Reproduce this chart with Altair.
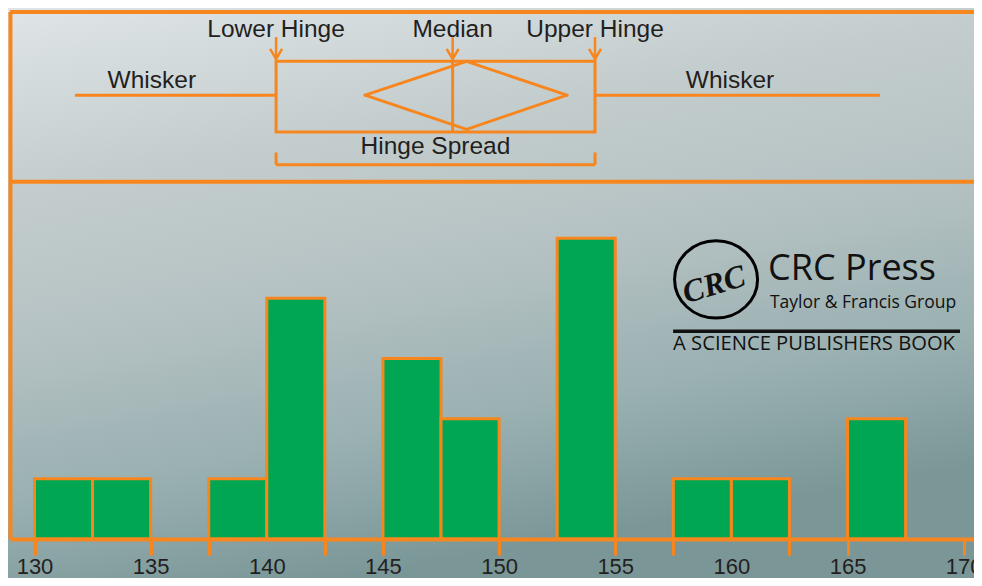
import altair as alt
import pandas as pd

# ---------------- data ----------------
bin_start = [130, 132.5, 137.5, 140, 145, 147.5, 152.5, 157.5, 160, 165]
bin_end = [132.5, 135, 140, 142.5, 147.5, 150, 155, 160, 162.5, 167.5]
counts = [1, 1, 1, 4, 3, 2, 5, 1, 1, 2]
tick_values = [130, 135, 137.5, 140, 142.5, 145, 150, 155, 157.5, 160, 162.5, 165, 170]
label_only = [140, 160]  # labelled positions drawn without a tick

# box-plot schematic (values on the x scale)
whisker_low = 131.74
lower_hinge = 140.4
median = 148.0
upper_hinge = 154.13
whisker_high = 166.4
diamond_low = 144.23
diamond_mid = 148.6
diamond_high = 152.92

ORANGE = "#f7861e"
GREEN = "#00a651"
TEXT = "#231f20"

# layout levels (on the count scale)
frame_top = 8.76
label_row = 8.455
arrow_top = 8.342
arrow_tip = 7.979
box_top = 7.94
box_bottom = 6.765
whisker_y = 7.377
whisker_text_y = 7.62
spread_text_y = 6.512
bracket_top = 6.425
bracket_y = 6.22
divider_y = 5.94

X_MIN, X_MAX = 128.945, 170.444
xscale = alt.Scale(domain=[X_MIN, X_MAX], nice=False, zero=False)
yscale = alt.Scale(domain=[0, 8.793], nice=False, zero=False)

tick_test = " || ".join(f"datum.value == {v}" for v in label_only)

XAXIS = alt.Axis(
    orient="bottom",
    values=tick_values, labelExpr="datum.value % 5 == 0 ? datum.label : ''",
    title=None, grid=False, domainColor=ORANGE, domainWidth=4, tickColor=ORANGE,
    tickOpacity={"condition": {"test": tick_test, "value": 0}, "value": 1},
    tickWidth=3, tickSize=16, labelFontSize=22, labelFont="Liberation Sans", labelColor=TEXT,
    labelPadding=1, labelFlush=False, labelOverlap=False, zindex=1)


def X(f):
    return alt.X(f, type="quantitative", scale=xscale, axis=XAXIS)


def Y(f):
    return alt.Y(f, type="quantitative", scale=yscale, axis=None)


# background
bg = alt.Chart(pd.DataFrame({"x": [128.5], "x2": [171.3], "y": [-0.8], "y2": [8.95]})).mark_rect(
    color=alt.LinearGradient(
        gradient="linear",
        stops=[
            alt.GradientStop(color="#e0e6e9", offset=0),
            alt.GradientStop(color="#c4cdce", offset=0.3),
            alt.GradientStop(color="#b4c1c2", offset=0.55),
            alt.GradientStop(color="#98afb0", offset=0.8),
            alt.GradientStop(color="#7a9697", offset=1),
        ],
        x1=0, x2=0.3, y1=0, y2=1,
    )
).encode(x=X("x"), x2="x2", y=Y("y"), y2="y2")

# histogram bars
bars = alt.Chart(pd.DataFrame({"x": bin_start, "x2": bin_end, "y": counts})).mark_rect(
    fill=GREEN, stroke=ORANGE, strokeWidth=3
).encode(x=X("x"), x2="x2", y=Y("y"), y2=alt.datum(0))

# frame lines (top, divider, left edge)
hlines = alt.Chart(pd.DataFrame({"y": [frame_top, divider_y]})).mark_rule(
    color=ORANGE, strokeWidth=4
).encode(y=Y("y"))
left_edge = alt.Chart(pd.DataFrame({"x": [X_MIN + 0.02], "y": [0], "y2": [frame_top]})).mark_rule(
    color=ORANGE, strokeWidth=4
).encode(x=X("x"), y=Y("y"), y2="y2")

# whiskers
whiskers = alt.Chart(pd.DataFrame({
    "x": [whisker_low, upper_hinge], "x2": [lower_hinge, whisker_high], "y": [whisker_y, whisker_y]
})).mark_rule(color=ORANGE, strokeWidth=3).encode(x=X("x"), x2="x2", y=Y("y"))

# box
box = alt.Chart(pd.DataFrame({
    "x": [lower_hinge], "x2": [upper_hinge], "y": [box_top], "y2": [box_bottom]
})).mark_rect(fillOpacity=0, stroke=ORANGE, strokeWidth=3).encode(
    x=X("x"), x2="x2", y=Y("y"), y2="y2")

median_line = alt.Chart(pd.DataFrame({"x": [median], "y": [box_top], "y2": [box_bottom]})).mark_rule(
    color=ORANGE, strokeWidth=3).encode(x=X("x"), y=Y("y"), y2="y2")

# diamond
d_top = box_top
d_bot = 6.81
diamond = alt.Chart(pd.DataFrame({
    "x": [diamond_low, diamond_mid, diamond_high, diamond_mid],
    "y": [whisker_y, d_top, whisker_y, d_bot],
    "x2": [diamond_mid, diamond_high, diamond_mid, diamond_low],
    "y2": [d_top, whisker_y, d_bot, whisker_y],
})).mark_rule(color=ORANGE, strokeWidth=3, strokeCap="round").encode(
    x=X("x"), y=Y("y"), x2="x2", y2="y2")

# arrows
arrow_x = [lower_hinge, median, upper_hinge]
arrows = alt.Chart(pd.DataFrame({"x": arrow_x, "y": [arrow_top] * 3, "y2": [arrow_tip] * 3})).mark_rule(
    color=ORANGE, strokeWidth=2.5).encode(x=X("x"), y=Y("y"), y2="y2")
heads = alt.Chart(pd.DataFrame({"x": arrow_x, "y": [arrow_tip] * 3})).mark_point(
    shape="M-0.6,-1L0,0L0.6,-1", size=400, filled=False, stroke=ORANGE, strokeWidth=2.5, opacity=1
).encode(x=X("x"), y=Y("y"))

# hinge-spread bracket
bracket = alt.Chart(pd.DataFrame({
    "x": [lower_hinge, lower_hinge, upper_hinge],
    "x2": [upper_hinge, lower_hinge, upper_hinge],
    "y": [bracket_y, bracket_top, bracket_top],
    "y2": [bracket_y, bracket_y, bracket_y],
})).mark_rule(color=ORANGE, strokeWidth=3).encode(x=X("x"), x2="x2", y=Y("y"), y2="y2")

# annotation texts
ann = alt.Chart(pd.DataFrame({
    "x": [lower_hinge, median, upper_hinge, 135.05, 159.94, 147.26],
    "y": [label_row, label_row, label_row, whisker_text_y, whisker_text_y, spread_text_y],
    "t": ["Lower Hinge", "Median", "Upper Hinge", "Whisker", "Whisker", "Hinge Spread"],
})).mark_text(font="Liberation Sans", fontSize=24.5, color=TEXT, align="center", baseline="middle").encode(
    x=X("x"), y=Y("y"), text="t:N")

# logo
logo_circle = alt.Chart(pd.DataFrame({"x": [159.34], "y": [4.314]})).mark_point(
    shape="M-1,0A1,0.93 0 1,1 1,0A1,0.93 0 1,1 -1,0Z", size=6889, filled=False,
    stroke="black", strokeWidth=3, opacity=1).encode(x=X("x"), y=Y("y"))
logo_crc = alt.Chart(pd.DataFrame({"x": [159.25], "y": [4.23], "t": ["CRC"]})).mark_text(
    font="Liberation Serif", fontStyle="italic", fontWeight="bold", fontSize=32, angle=343,
    color="#111", align="center", baseline="middle").encode(x=X("x"), y=Y("y"), text="t:N")
logo_press = alt.Chart(pd.DataFrame({"x": [161.58], "y": [4.48], "t": ["CRC Press"]})).mark_text(
    font="Open Sans", fontSize=36, color="#111", align="left", baseline="middle").encode(
    x=X("x"), y=Y("y"), text="t:N")
logo_tf = alt.Chart(pd.DataFrame({"x": [161.66], "y": [3.917], "t": ["Taylor & Francis Group"]})).mark_text(
    font="Open Sans", fontSize=17.5, color="#111", align="left", baseline="middle").encode(
    x=X("x"), y=Y("y"), text="t:N")
logo_rule = alt.Chart(pd.DataFrame({"x": [157.49], "x2": [169.84], "y": [3.455]})).mark_rule(
    color="#111", strokeWidth=3.5).encode(x=X("x"), x2="x2", y=Y("y"))
logo_book = alt.Chart(pd.DataFrame({"x": [157.49], "y": [3.24], "t": ["A SCIENCE PUBLISHERS BOOK"]})).mark_text(
    font="Open Sans", fontSize=20.2, color="#111", align="left", baseline="middle").encode(
    x=X("x"), y=Y("y"), text="t:N")

chart = alt.layer(
    bg, bars, hlines, left_edge, whiskers, box, median_line, diamond, arrows, heads, bracket, ann,
    logo_circle, logo_crc, logo_press, logo_tf, logo_rule, logo_book
).properties(
    width=964, height=529,
    autosize=alt.AutoSizeParams(type="none"),
    padding={"left": 2, "top": 2, "right": 0, "bottom": 39},
    background="#7f9a9b",
).configure_view(stroke=None)

chart.save("out.html", embed_options={"renderer": "svg", "actions": False})
